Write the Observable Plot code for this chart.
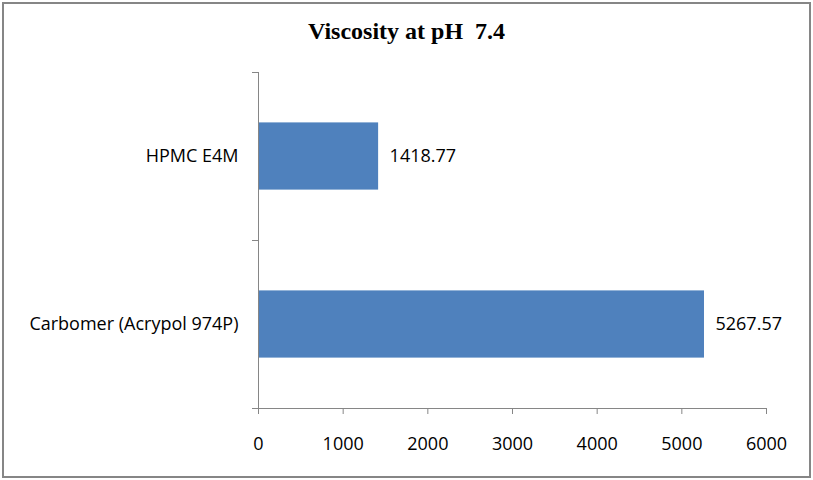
<!DOCTYPE html>
<html><head><meta charset="utf-8">
<script src="https://cdn.jsdelivr.net/npm/d3@7"></script>
<script src="https://cdn.jsdelivr.net/npm/@observablehq/plot@0.6"></script>
<style>
body{margin:0;background:#fff;}
#wrap{position:relative;width:813px;height:480px;overflow:hidden;}
#frame{position:absolute;left:2px;top:2px;width:805px;height:472px;border:2px solid #868686;}
#title{position:absolute;left:0;width:813px;top:18px;line-height:26px;text-align:center;white-space:pre;font-family:"Liberation Serif","Times New Roman",serif;font-weight:bold;font-size:24px;color:#000;}
#chart{position:absolute;left:0;top:0;}
</style></head><body>
<div id="wrap"><div id="frame"></div><div id="title">Viscosity at pH  7.4</div><div id="chart"></div></div>
<script>
const categories = ["HPMC E4M", "Carbomer (Acrypol 974P)"];
const viscosity = [1418.77, 5267.57];
const xTicks = [0, 1000, 2000, 3000, 4000, 5000, 6000];

const data = categories.map((c, i) => ({category: c, index: i, value: viscosity[i]}));
const axisColor = "#868686";
const font = "'Open Sans', sans-serif";

const chart = Plot.plot({
  width: 813, height: 480,
  marginLeft: 258, marginRight: 47, marginTop: 72, marginBottom: 72,
  style: {fontFamily: font, fontSize: "18px", color: "#000", background: "transparent", overflow: "visible"},
  x: {domain: [0, 6000], ticks: xTicks},
  y: {domain: [0, categories.length], reverse: true},
  marks: [
    Plot.rectX(data, {x1: 0, x2: "value", y1: "index", y2: d => d.index + 1, insetTop: 50.4, insetBottom: 50.4, fill: "#4F81BD"}),
    Plot.ruleX([0], {stroke: axisColor}),
    Plot.ruleY([categories.length], {stroke: axisColor}),
    Plot.axisX({ticks: xTicks, tickSize: 6, tickPadding: 23, stroke: axisColor, fill: "#000", label: null, tickFormat: d => String(d)}),
    Plot.axisY({ticks: d3.range(categories.length + 1), tickSize: 6, tickFormat: () => "", stroke: axisColor, label: null}),
    Plot.axisY({ticks: categories.map((c, i) => i + 0.5), tickSize: 0, tickPadding: 20, tickFormat: d => categories[Math.floor(d)], fill: "#000", label: null}),
    Plot.text(data, {x: "value", y: d => d.index + 0.5, text: d => d.value.toFixed(2), dx: 11, textAnchor: "start", fill: "#000", fontSize: 18})
  ]
});
document.getElementById("chart").appendChild(chart);
</script>
</body></html>
